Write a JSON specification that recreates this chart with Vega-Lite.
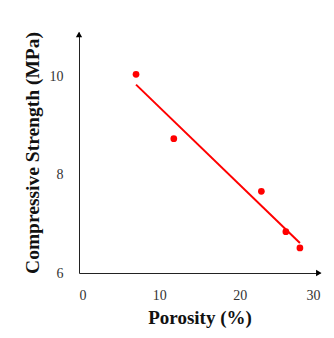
{
  "$schema": "https://vega.github.io/schema/vega-lite/v6.json",
  "autosize": "none",
  "width": 241,
  "height": 241,
  "padding": {"left": 79, "top": 32, "right": 14, "bottom": 65},
  "background": "white",
  "config": {"view": {"stroke": null}},
  "datasets": {
    "pts": [
      {"porosity": 7.1, "strength": 10.04},
      {"porosity": 11.8, "strength": 8.73},
      {"porosity": 22.7, "strength": 7.66},
      {"porosity": 25.75, "strength": 6.84},
      {"porosity": 27.5, "strength": 6.51}
    ],
    "arrows": [
      {"porosity": 0, "strength": 10.85, "shape": "triangle-up"},
      {"porosity": 29.85, "strength": 6, "shape": "triangle-right"}
    ]
  },
  "encoding": {
    "x": {"field": "porosity", "type": "quantitative",
      "scale": {"domain": [0, 30], "nice": false, "zero": false},
      "axis": {"title": "Porosity (%)", "values": [0, 10, 20, 30], "grid": false, "ticks": false,
        "domainColor": "#222", "domainWidth": 1, "labelPadding": 15,
        "labelFont": "Liberation Serif", "labelFontSize": 14, "labelColor": "#333",
        "titleFont": "Liberation Serif", "titleFontSize": 19, "titleFontWeight": "bold", "titleColor": "#111", "titlePadding": 6}},
    "y": {"field": "strength", "type": "quantitative",
      "scale": {"domain": [6, 10.9], "nice": false, "zero": false},
      "axis": {"title": "Compressive Strength (MPa)", "values": [6, 8, 10], "grid": false, "ticks": false,
        "domainColor": "#222", "domainWidth": 1, "labelPadding": 16,
        "labelFont": "Liberation Serif", "labelFontSize": 14, "labelColor": "#333",
        "titleFont": "Liberation Serif", "titleFontSize": 19.5, "titleFontWeight": "bold", "titleColor": "#111", "titlePadding": 7}}
  },
  "layer": [
    {"data": {"name": "pts"},
     "transform": [{"regression": "strength", "on": "porosity"}],
     "mark": {"type": "line", "color": "#ff0000", "strokeWidth": 2}},
    {"data": {"name": "pts"},
     "mark": {"type": "point", "filled": true, "color": "#ff0000", "opacity": 1, "size": 45}},
    {"data": {"name": "arrows"},
     "mark": {"type": "point", "filled": true, "color": "black", "opacity": 1, "size": 40, "clip": false},
     "encoding": {"shape": {"field": "shape", "type": "nominal", "scale": null}}}
  ]
}
